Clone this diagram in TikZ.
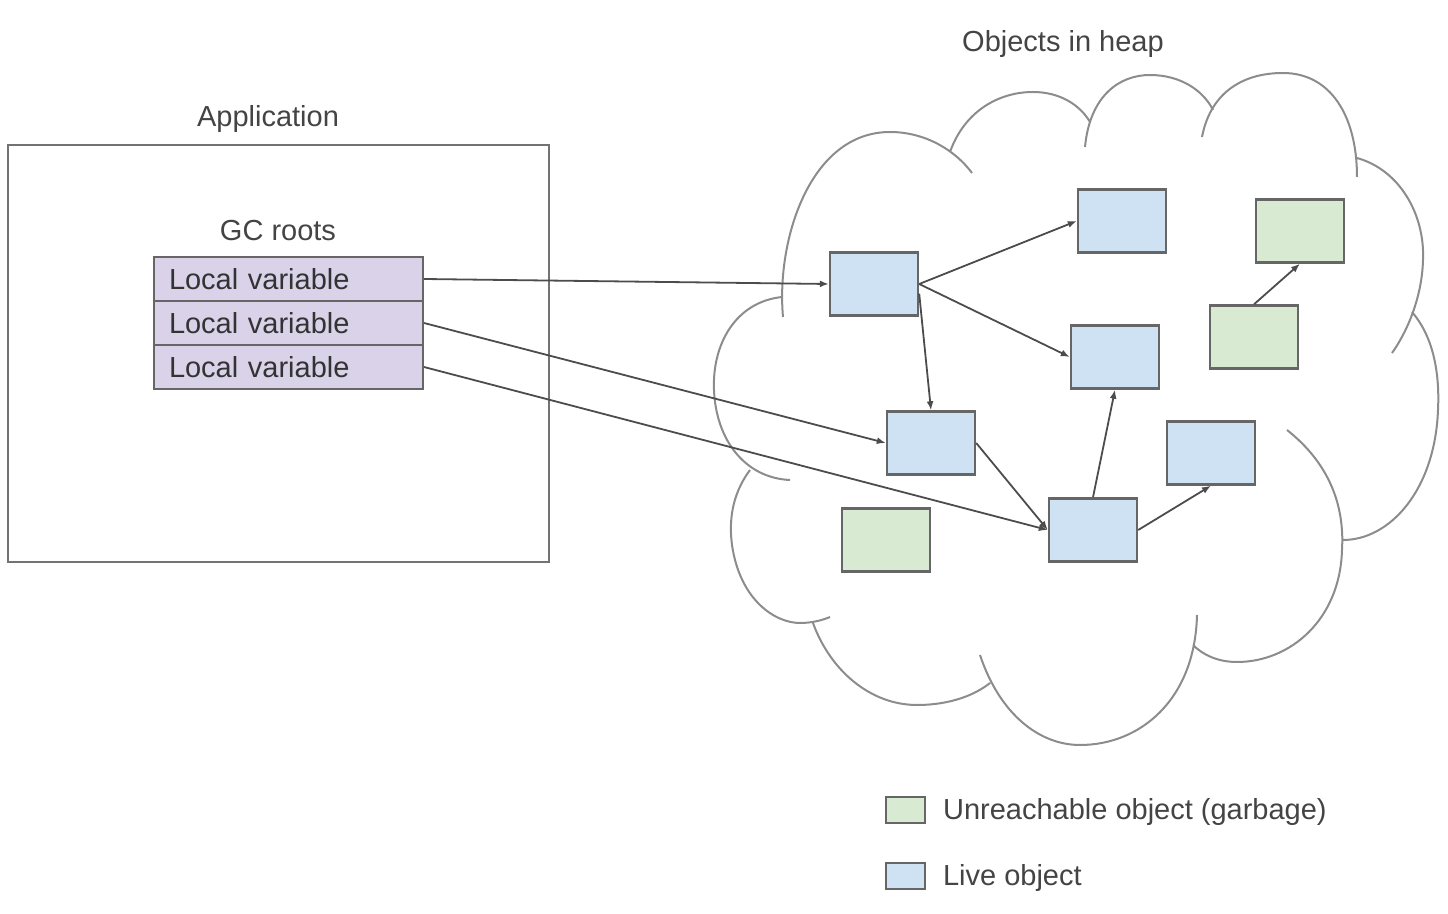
\documentclass[tikz,border=0pt]{standalone}
\usepackage{fontspec}
\setmainfont{Liberation Sans}
\usetikzlibrary{arrows.meta,positioning}

\definecolor{liveblue}{HTML}{CFE2F3}
\definecolor{garbgreen}{HTML}{D9EAD3}
\definecolor{rootpurple}{HTML}{D9D2E9}
\definecolor{edgegray}{HTML}{666666}
\definecolor{textgray}{HTML}{444444}

\begin{document}
\begin{tikzpicture}[x=0.5pt, y=-0.5pt,  % one unit = one pixel of the sketch
    every node/.style={font=\fontsize{14.5}{17}\selectfont, text=textgray},
    obj/.style={draw=edgegray, line width=1.2pt, minimum width=44pt, minimum height=31.5pt, inner sep=0pt},
    live/.style={obj, fill=liveblue},
    garbage/.style={obj, fill=garbgreen},
    localvar/.style={draw=edgegray, line width=1pt, fill=rootpurple, minimum height=22pt,
        text width=119.5pt, inner xsep=7.5pt, inner ysep=0pt, align=left, text=black!80},
    ref/.style={draw=black!70, line width=0.9pt, -{Latex[length=4.5pt,width=3.5pt]}},
    cloudline/.style={draw=black!45, line width=1pt},
    keybox/.style={draw=edgegray, line width=1pt, minimum width=19.5pt, minimum height=13pt, inner sep=0pt}]
    \useasboundingbox (0,0) rectangle (1448,914);

    % application side
    \node[draw=black!55, line width=1pt, minimum width=270.5pt, minimum height=208.5pt] (app) at (278.5,353.5) {};
    \node (apptitle) at (268,119) {Application};
    \node (gctitle) at (278,231) {GC roots};
    \node[localvar] (lv1) at (288.5,279) {Local variable};
    \node[localvar, below=-1pt of lv1] (lv2) {Local variable};
    \node[localvar, below=-1pt of lv2] (lv3) {Local variable};

    % the heap
    \node (heaptitle) at (1063,44) {Objects in heap};
    \draw[cloudline]
        (783,317) .. controls (776,240) and (810,132) .. (890,132) .. controls (925,132) and (955,150) .. (972,173)
        (950,152) .. controls (965,110) and (1000,92) .. (1033,92) .. controls (1060,92) and (1080,105) .. (1090,122)
        (1085,147) .. controls (1090,95) and (1120,75) .. (1150,75) .. controls (1180,75) and (1203,90) .. (1213,110)
        (1202,137) .. controls (1210,95) and (1240,73) .. (1283,73) .. controls (1330,73) and (1357,115) .. (1357,177)
        (1357,158) .. controls (1400,170) and (1425,215) .. (1423,260) .. controls (1422,300) and (1405,335) .. (1392,353)
        (1412,312) .. controls (1432,335) and (1440,370) .. (1438,410) .. controls (1435,490) and (1390,540) .. (1343,540)
        (1287,430) .. controls (1325,460) and (1345,500) .. (1342,550) .. controls (1340,620) and (1290,662) .. (1237,662)
            .. controls (1218,662) and (1203,655) .. (1193,645)
        (1197,615) .. controls (1195,700) and (1140,745) .. (1080,745) .. controls (1040,745) and (1000,715) .. (980,655)
        (813,623) .. controls (830,670) and (870,705) .. (917,705) .. controls (950,705) and (975,695) .. (990,683)
        (750,470) .. controls (735,490) and (728,515) .. (732,545) .. controls (740,600) and (775,623) .. (800,623)
            .. controls (812,623) and (823,620) .. (830,617)
        (782,297) .. controls (735,302) and (712,345) .. (714,390) .. controls (716,440) and (745,478) .. (790,480);

    \node[live] (la) at (874,284) {};
    \node[live] (lb) at (1122,221) {};
    \node[live] (lc) at (1115,357) {};
    \node[live] (ld) at (931,443) {};
    \node[live] (le) at (1093,530) {};
    \node[live] (lf) at (1211,453) {};
    \node[garbage] (ga) at (1300,231) {};
    \node[garbage] (gb) at (1254,337) {};
    \node[garbage] (gc) at (886,540) {};

    % references
    \draw[ref] (lv1.east) -- (la.west);
    \draw[ref] (lv2.east) -- (ld.west);
    \draw[ref] (lv3.east) -- (le.west);
    \draw[ref] (la.east) -- (lb.west);
    \draw[ref] (la.east) -- (lc.west);
    \draw[ref] (la.-12) -- (ld.north);
    \draw[ref] (ld.east) -- (le.west);
    \draw[ref] (le.north) -- (lc.south);
    \draw[ref] (le.east) -- (lf.south);
    \draw[ref] (gb.north) -- (ga.south);

    % legend
    \node[keybox, fill=garbgreen] (keygarb) at (905.5,810.5) {};
    \node[right=5pt of keygarb, yshift=-1pt] (keygarbtext) {Unreachable object (garbage)};
    \node[keybox, fill=liveblue] (keylive) at (905.5,876.5) {};
    \node[right=5pt of keylive, yshift=-1pt] (keylivetext) {Live object};
\end{tikzpicture}
\end{document}
